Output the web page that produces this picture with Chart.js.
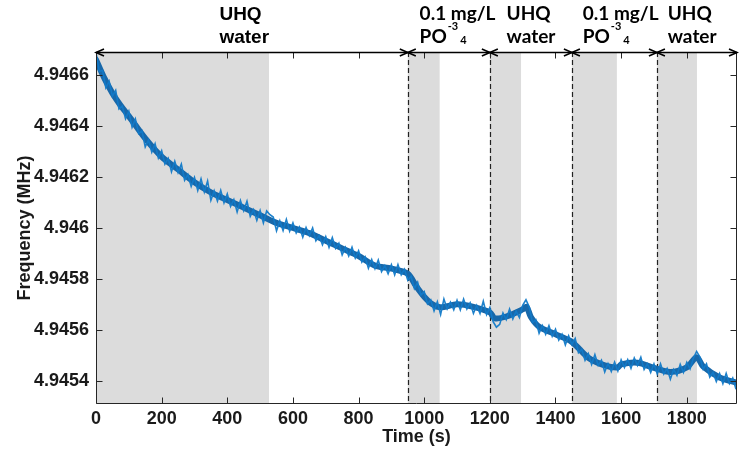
<!DOCTYPE html>
<html><head><meta charset="utf-8">
<script src="https://cdn.jsdelivr.net/npm/chart.js@4.4.1/dist/chart.umd.min.js"></script>
<style>html,body{margin:0;padding:0;background:#fff;}#wrap{width:755px;height:452px;}</style>
</head><body><div id="wrap"><canvas id="c" width="755" height="452"></canvas></div>
<script>
// ---- data ----
// raw (noisy) frequency trace, sampled every 10 s
const timeS = [
0,10,20,30,40,50,60,70,80,90,100,110,120,130,140,150,160,170,180,190,
200,210,220,230,240,250,260,270,280,290,300,310,320,330,340,350,360,370,380,390,
400,410,420,430,440,450,460,470,480,490,500,510,520,530,540,550,560,570,580,590,
600,610,620,630,640,650,660,670,680,690,700,710,720,730,740,750,760,770,780,790,
800,810,820,830,840,850,860,870,880,890,900,910,920,930,940,950,960,970,980,990,
1000,1010,1020,1030,1040,1050,1060,1070,1080,1090,1100,1110,1120,1130,1140,1150,1160,1170,1180,1190,
1200,1210,1220,1230,1240,1250,1260,1270,1280,1290,1300,1310,1320,1330,1340,1350,1360,1370,1380,1390,
1400,1410,1420,1430,1440,1450,1460,1470,1480,1490,1500,1510,1520,1530,1540,1550,1560,1570,1580,1590,
1600,1610,1620,1630,1640,1650,1660,1670,1680,1690,1700,1710,1720,1730,1740,1750,1760,1770,1780,1790,
1800,1810,1820,1830,1840,1850,1860,1870,1880,1890,1900,1910,1920,1930,1940,1950
];
const frequencyMHz = [
4.946689,4.946616,4.946619,4.946551,4.946577,4.946518,4.946541,4.946468,4.946480,4.946429,
4.946459,4.946396,4.946429,4.946371,4.946382,4.946319,4.946347,4.946298,4.946331,4.946275,
4.946304,4.946251,4.946274,4.946221,4.946262,4.946218,4.946251,4.946188,4.946210,4.946164,
4.946199,4.946148,4.946193,4.946142,4.946185,4.946109,4.946146,4.946106,4.946148,4.946099,
4.946134,4.946085,4.946112,4.946063,4.946108,4.946068,4.946105,4.946046,4.946072,4.946030,
4.946069,4.946020,4.946067,4.946052,4.946043,4.945989,4.946028,4.945990,4.946034,4.945987,
4.946020,4.945980,4.946004,4.945964,4.946002,4.945970,4.946000,4.945950,4.945970,4.945934,
4.945966,4.945924,4.945962,4.945920,4.945940,4.945894,4.945924,4.945890,4.945924,4.945882,
4.945910,4.945866,4.945886,4.945842,4.945876,4.945840,4.945874,4.945828,4.945852,4.945820,
4.945856,4.945816,4.945856,4.945816,4.945838,4.945794,4.945810,4.945762,4.945787,4.945736,
4.945750,4.945702,4.945717,4.945674,4.945710,4.945660,4.945721,4.945682,4.945708,4.945678,
4.945716,4.945678,4.945720,4.945682,4.945706,4.945664,4.945696,4.945664,4.945712,4.945660,
4.945688,4.945632,4.945610,4.945621,4.945666,4.945640,4.945681,4.945642,4.945673,4.945648,
4.945696,4.945718,4.945689,4.945628,4.945639,4.945586,4.945616,4.945582,4.945616,4.945574,
4.945602,4.945560,4.945582,4.945540,4.945576,4.945542,4.945566,4.945510,4.945523,4.945480,
4.945506,4.945464,4.945502,4.945460,4.945480,4.945434,4.945467,4.945436,4.945473,4.945438,
4.945482,4.945452,4.945482,4.945448,4.945489,4.945460,4.945492,4.945444,4.945466,4.945432,
4.945466,4.945426,4.945466,4.945426,4.945448,4.945406,4.945444,4.945420,4.945464,4.945432,
4.945472,4.945446,4.945488,4.945515,4.945493,4.945445,4.945466,4.945414,4.945432,4.945396,
4.945428,4.945388,4.945428,4.945388,4.945410,4.945366
];
// centre of the noise band
const bandTimeS = [0,25,50,75,100,150,200,250,300,350,400,450,500,550,600,650,700,750,800,850,900,950,975,1000,1025,1050,1100,1150,1200,1215,1250,1300,1312,1325,1350,1400,1450,1500,1550,1590,1600,1650,1700,1750,1800,1830,1850,1900,1950];
const bandMHz = [4.946662,4.946590,4.946530,4.946482,4.946440,4.946352,4.946280,4.946230,4.946180,4.946140,4.946110,4.946080,4.946050,4.946020,4.946000,4.945980,4.945950,4.945920,4.945890,4.945852,4.945840,4.945820,4.945772,4.945730,4.945700,4.945688,4.945700,4.945690,4.945668,4.945645,4.945652,4.945680,4.945690,4.945650,4.945612,4.945582,4.945552,4.945490,4.945460,4.945452,4.945464,4.945470,4.945450,4.945434,4.945452,4.945492,4.945455,4.945412,4.945392];

const xTickValues = [0,200,400,600,800,1000,1200,1400,1600,1800];
const yTickValues = [4.9454,4.9456,4.9458,4.946,4.9462,4.9464,4.9466];
const xRange = [0, 1953];
const yRange = [4.945308, 4.946692];
// phases
const phaseBounds = [0, 950, 1200, 1450, 1709, 1953];
const shadeStart = [0, 950, 1200, 1450, 1709];
const shadeEnd = [527, 1047, 1295, 1587, 1831];
const dashedAt = [950, 1200, 1450, 1709];
const phaseLabelTimes = [376, 986, 1251, 1483, 1742];
const phaseLabels = [
  [[{t:'UHQ'}],[{t:'water'}]],
  [[{t:'0.1 mg/L'}],[{t:'PO'},{t:'-3',sup:true},{t:'4',sub:true}]],
  [[{t:'UHQ'}],[{t:'water'}]],
  [[{t:'0.1 mg/L'}],[{t:'PO'},{t:'-3',sup:true},{t:'4',sub:true}]],
  [[{t:'UHQ'}],[{t:'water'}]]
];

// ---- plugins ----
const shadePlugin = {
  id:'shade',
  beforeDatasetsDraw(chart){
    const {ctx, chartArea:a, scales:{x}} = chart;
    ctx.save();
    ctx.fillStyle = '#dcdcdc';
    for (let i=0;i<shadeStart.length;i++){
      const x0 = x.getPixelForValue(shadeStart[i]), x1 = x.getPixelForValue(shadeEnd[i]);
      ctx.fillRect(x0, a.top, x1-x0, a.bottom-a.top);
    }
    ctx.strokeStyle = '#222';
    ctx.lineWidth = 1.2;
    ctx.setLineDash([5,3]);
    dashedAt.forEach(v=>{
      const px = Math.round(x.getPixelForValue(v))+0.5;
      ctx.beginPath(); ctx.moveTo(px, a.top); ctx.lineTo(px, a.bottom); ctx.stroke();
    });
    ctx.restore();
  }
};
const framePlugin = {
  id:'frame',
  afterDatasetsDraw(chart){
    const {ctx, chartArea:a, scales:{x,y}} = chart;
    ctx.save();
    ctx.strokeStyle = '#262626';
    ctx.lineWidth = 1;
    const L = Math.round(a.left)+0.5, R = Math.round(a.right)-0.5, T = Math.round(a.top)+0.5, B = Math.round(a.bottom)-0.5;
    ctx.beginPath();
    ctx.moveTo(L,T); ctx.lineTo(L,B); ctx.lineTo(R,B); ctx.lineTo(R,T);
    ctx.stroke();
    const tl = 6;
    ctx.beginPath();
    xTickValues.forEach(v=>{
      const px = Math.round(x.getPixelForValue(v))+0.5;
      ctx.moveTo(px,B); ctx.lineTo(px,B-tl);
      ctx.moveTo(px,T); ctx.lineTo(px,T+tl);
    });
    yTickValues.forEach(v=>{
      const py = Math.round(y.getPixelForValue(v))+0.5;
      ctx.moveTo(L,py); ctx.lineTo(L+tl,py);
      ctx.moveTo(R,py); ctx.lineTo(R-tl,py);
    });
    ctx.stroke();
    ctx.restore();
  },
  afterDraw(chart){
    const {ctx, chartArea:a, scales:{x}} = chart;
    ctx.save();
    const T = Math.round(a.top)+0.5;
    ctx.strokeStyle = '#000';
    ctx.lineWidth = 1.6;
    ctx.beginPath(); ctx.moveTo(a.left, T); ctx.lineTo(a.right, T); ctx.stroke();
    const hl = 8, hw = 3.5;
    for (let i=0;i<phaseBounds.length-1;i++){
      const x0 = x.getPixelForValue(phaseBounds[i]), x1 = x.getPixelForValue(phaseBounds[i+1]);
      ctx.beginPath();
      ctx.moveTo(x0+hl, T-hw); ctx.lineTo(x0, T); ctx.lineTo(x0+hl, T+hw);
      ctx.moveTo(x1-hl, T-hw); ctx.lineTo(x1, T); ctx.lineTo(x1-hl, T+hw);
      ctx.stroke();
    }
    ctx.fillStyle = '#000';
    ctx.textBaseline = 'alphabetic';
    ctx.textAlign = 'left';
    const baselines = [20, 43];
    phaseLabels.forEach((lines, i)=>{
      const fam = i===0 ? '"Liberation Sans", Arial, sans-serif' : 'Lato, "Open Sans", sans-serif';
      const px = x.getPixelForValue(phaseLabelTimes[i]);
      lines.forEach((parts, li)=>{
        let cx = px;
        parts.forEach(p=>{
          let size = 19, by = baselines[li];
          if (p.sup){ size = 11; by = baselines[li]-13; cx += 1; }
          if (p.sub){ size = 11; by = baselines[li]+1; }
          ctx.font = 'bold ' + size + 'px ' + fam;
          ctx.fillText(p.t, cx, by);
          cx += ctx.measureText(p.t).width + (p.sup ? 2 : 0);
        });
      });
    });
    ctx.restore();
  }
};

const tickFont = {family:'"Liberation Sans", Arial, sans-serif', weight:'bold', size:18, lineHeight:1.2};
const ctx = document.getElementById('c').getContext('2d');
new Chart(ctx, {
  type:'line',
  data:{datasets:[
    {data: bandTimeS.map((t,i)=>({x:t, y:bandMHz[i]})), borderColor:'#1868aa', borderWidth:6, pointRadius:0, tension:0.3, fill:false, borderJoinStyle:'round', borderCapStyle:'round', order:2},
    {data: timeS.map((t,i)=>({x:t, y:frequencyMHz[i]})), borderColor:'rgba(18,122,200,0.95)', borderWidth:1.6, pointRadius:0, tension:0, fill:false, order:1}
  ]},
  options:{
    responsive:false, animation:false, devicePixelRatio:1,
    layout:{padding:{top:52, right:18, left:0, bottom:0}},
    plugins:{legend:{display:false}, tooltip:{enabled:false}},
    scales:{
      x:{type:'linear', min:xRange[0], max:xRange[1],
        afterBuildTicks:s=>{s.ticks = xTickValues.map(v=>({value:v}));},
        afterFit:s=>{s.height = 48;},
        grid:{display:false, drawTicks:false}, border:{display:false},
        ticks:{font:tickFont, color:'#1a1a1a', padding:4, maxRotation:0, autoSkip:false,
          callback:v=>String(v)},
        title:{display:true, text:'Time (s)', font:tickFont, color:'#1a1a1a', padding:{top:0,bottom:4}}
      },
      y:{type:'linear', min:yRange[0], max:yRange[1],
        afterBuildTicks:s=>{s.ticks = yTickValues.map(v=>({value:v}));},
        afterFit:s=>{s.width = 96;},
        grid:{display:false, drawTicks:false}, border:{display:false},
        ticks:{font:tickFont, color:'#1a1a1a', padding:7, autoSkip:false,
          callback:v=>Number(Number(v).toFixed(4)).toString()},
        title:{display:true, text:'Frequency (MHz)', font:tickFont, color:'#1a1a1a', padding:{top:14,bottom:0}}
      }
    }
  },
  plugins:[shadePlugin, framePlugin]
});
</script></body></html>
